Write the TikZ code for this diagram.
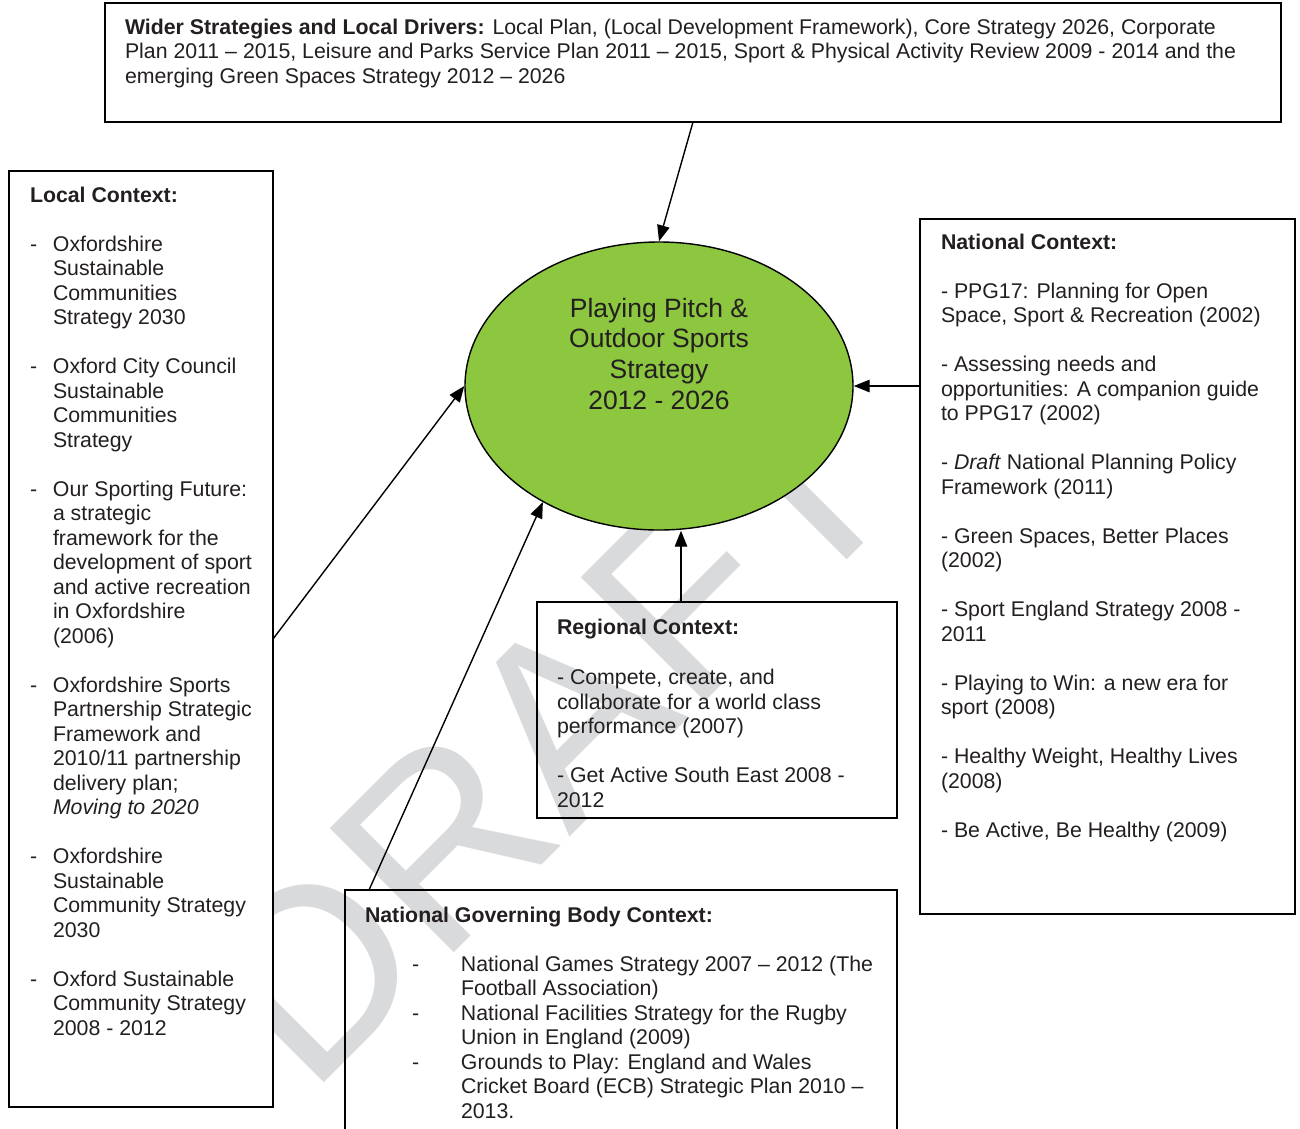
\documentclass[tikz,border=0pt]{standalone}
\usepackage{fontspec}
\setmainfont{Liberation Sans}
\usetikzlibrary{arrows.meta,shapes.geometric,calc}
\definecolor{ink}{HTML}{231F20}
\definecolor{leaf}{HTML}{8DC63F}
\definecolor{wm}{RGB}{217,218,220}
\newcommand{\bodyfont}{\fontsize{21.3}{24.5}\selectfont}
\newcommand{\corefont}{\fontsize{26.5}{30.7}\selectfont}
\newcommand{\ldash}{\makebox[23pt][l]{-}}
\newcommand{\lind}{\makebox[23pt][l]{}}
\newcommand{\ndash}{\makebox[96pt][l]{\hspace*{47pt}-}}
\newcommand{\nind}{\makebox[96pt][l]{}}
\newcommand{\gap}{\\[24.5pt]}
\begin{document}
\begin{tikzpicture}[x=1pt,y=-1pt,
  box/.style={draw=black, line width=1.4pt, inner sep=0pt, outer sep=0pt, anchor=north west},
  txt/.style={anchor=base west, inner sep=0pt, outer sep=0pt, font=\bodyfont, text=ink},
  arr/.style={draw=black, line width=1.4pt, -{Triangle[length=16pt,width=12.5pt]}}]
\useasboundingbox[fill=white] (0,0) rectangle (1300,1128);
% watermark
\node[rotate=45, text=wm, inner sep=0pt, font=\fontsize{255}{255}\selectfont] (wmk) at (548,735) {DRAFT};
% boxes
\node[box, minimum width=1176pt, minimum height=119pt] (top) at (105,3) {};
\node[box, fill=white, minimum width=264pt, minimum height=936pt] (loc) at (9,171) {};
\node[box, minimum width=375pt, minimum height=695pt] (nat) at (920,219) {};
\node[box, minimum width=360pt, minimum height=216pt] (reg) at (537,602) {};
\node[box, minimum width=552pt, minimum height=250pt] (ngb) at (345,890) {};
\node[ellipse, draw=black, line width=1.4pt, fill=leaf, minimum width=388pt, minimum height=288pt, inner sep=0pt] (core) at (659,386) {};
% texts
\node[txt] (ttop) at (125,34) {\parbox[t]{1200pt}{\raggedright
\textbf{Wider Strategies and Local Drivers:} Local Plan, (Local Development Framework), Core Strategy 2026, Corporate\\
Plan 2011 – 2015, Leisure and Parks Service Plan 2011 – 2015, Sport \& Physical Activity Review 2009 - 2014 and the\\
emerging Green Spaces Strategy 2012 – 2026}};
\node[txt] (tloc) at (30,202) {\parbox[t]{260pt}{\raggedright
\textbf{Local Context:}\gap
\ldash Oxfordshire\\ \lind Sustainable\\ \lind Communities\\ \lind Strategy 2030\gap
\ldash Oxford City Council\\ \lind Sustainable\\ \lind Communities\\ \lind Strategy\gap
\ldash Our Sporting Future:\\ \lind a strategic\\ \lind framework for the\\ \lind development of sport\\ \lind and active recreation\\ \lind in Oxfordshire\\ \lind (2006)\gap
\ldash Oxfordshire Sports\\ \lind Partnership Strategic\\ \lind Framework and\\ \lind 2010/11 partnership\\ \lind delivery plan;\\ \lind \textit{Moving to 2020}\gap
\ldash Oxfordshire\\ \lind Sustainable\\ \lind Community Strategy\\ \lind 2030\gap
\ldash Oxford Sustainable\\ \lind Community Strategy\\ \lind 2008 - 2012}};
\node[txt] (tnat) at (941,249) {\parbox[t]{360pt}{\raggedright
\textbf{National Context:}\gap
- PPG17: Planning for Open\\ Space, Sport \& Recreation (2002)\gap
- Assessing needs and\\ opportunities: A companion guide\\ to PPG17 (2002)\gap
- \textit{Draft} National Planning Policy\\ Framework (2011)\gap
- Green Spaces, Better Places\\ (2002)\gap
- Sport England Strategy 2008 -\\ 2011\gap
- Playing to Win: a new era for\\ sport (2008)\gap
- Healthy Weight, Healthy Lives\\ (2008)\gap
- Be Active, Be Healthy (2009)}};
\node[txt] (treg) at (557,634) {\parbox[t]{340pt}{\raggedright
\textbf{Regional Context:}\\[26pt]
- Compete, create, and\\ collaborate for a world class\\ performance (2007)\gap
- Get Active South East 2008 -\\ 2012}};
\node[txt] (tngb) at (365,922) {\parbox[t]{540pt}{\raggedright
\textbf{National Governing Body Context:}\gap
\ndash National Games Strategy 2007 – 2012 (The\\ \nind Football Association)\\
\ndash National Facilities Strategy for the Rugby\\ \nind Union in England (2009)\\
\ndash Grounds to Play: England and Wales\\ \nind Cricket Board (ECB) Strategic Plan 2010 –\\ \nind 2013.}};
\node[anchor=base, inner sep=0pt, font=\corefont, text=ink] (coretxt) at (659,317) {\parbox[t]{330pt}{\centering Playing Pitch \&\\ Outdoor Sports\\ Strategy\\ 2012 - 2026}};
% connectors
\coordinate (regtop) at ($(reg.north west)!0.4!(reg.north east)$);
\coordinate (ngbtop) at ($(ngb.north west)+(24,0)$);
\draw[arr] (top.south) -- (core.north);
\draw[arr] (loc.east) -- (core.west);
\draw[arr] (nat.west |- core.east) -- (core.east);
\draw[arr] (regtop) -- (regtop |- core.south);
\draw[arr] (ngbtop) -- (core.-135);
\end{tikzpicture}
\end{document}
